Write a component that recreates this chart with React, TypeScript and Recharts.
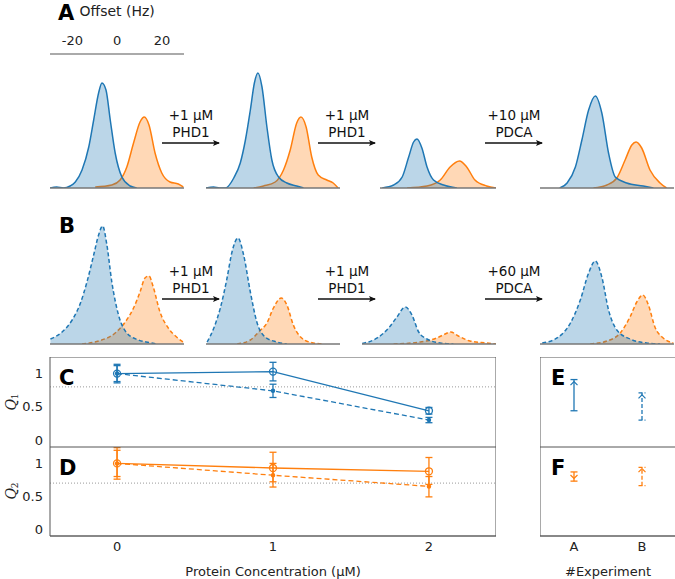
import React from "react";
import {
  ComposedChart,
  Area,
  Line,
  Scatter,
  XAxis,
  YAxis,
  ErrorBar,
  ReferenceLine,
} from "recharts";

const BLUE = "#1f77b4";
const ORANGE = "#ff7f0e";
const FONT = "'DejaVu Sans', sans-serif";
const FRAME = "#555";
const LIGHT = "#c8c8c8";
const PX_HZ = 2.24;
const SPEC_H = 134;

type Pt = [number, number];

// ---- spectra, [offset (Hz), intensity] ----
const a1Blue: Pt[] = [[-30, 0], [-27, 1], [-24, 0], [-21, 2], [-18.7, 6], [-15.7, 18], [-12.7, 41], [-10.5, 68], [-8.3, 95], [-6.8, 105], [-5, 98], [-3.1, 68], [-0.9, 35], [2.1, 11], [5.8, 2], [8.7, 0]];
const a1Orange: Pt[] = [[-9.8, 1], [-2.4, 3], [1.3, 8], [4.3, 21], [7.3, 45], [10.2, 66], [12.1, 71], [14.2, 63], [16.9, 35], [19.9, 15], [23.6, 6], [27.3, 4], [29.5, 1]];
const a2Blue: Pt[] = [[-30, 0], [-26.6, 1], [-24, 0], [-21.3, 0], [-17.6, 10], [-14.7, 25], [-12.4, 48], [-10.2, 78], [-8.4, 105], [-6.8, 115], [-5, 101], [-2.8, 61], [-0.6, 28], [2.4, 11], [6.1, 5], [10.5, 2], [13.5, 0]];
const a2Orange: Pt[] = [[-8.7, 0], [-4.3, 2], [0.9, 6], [4.6, 18], [7.6, 38], [10.5, 65], [12.4, 71], [14.7, 61], [17.2, 31], [20.1, 13], [23.9, 8], [26.8, 5], [29, 0]];
const a3Blue: Pt[] = [[-21, 0], [-15.9, 3], [-12.1, 11], [-9.2, 31], [-7, 46], [-5.5, 49], [-3.3, 40], [-1, 21], [1.9, 8], [6.4, 3], [12.3, 0]];
const a3Orange: Pt[] = [[-9.9, 0], [-1, 2], [4.9, 8], [9.3, 21], [13.5, 27], [16.7, 21], [20.4, 8], [25.6, 2], [29.8, 0]];
const a4Blue: Pt[] = [[-21.2, 0], [-17.9, 5], [-14.2, 21], [-11.3, 48], [-8.3, 78], [-5.3, 92], [-2.4, 75], [0.6, 35], [3.6, 11], [8.7, 5], [16.1, 2], [20.6, 0]];
const a4Orange: Pt[] = [[-6.1, 0], [-0.1, 3], [4.3, 10], [8, 28], [11, 43], [12.9, 46], [15.4, 40], [19.1, 18], [23.6, 5], [26.5, 0]];

const b1Blue: Pt[] = [[-29.8, 5], [-24.6, 12], [-20.1, 24], [-16.4, 41], [-13.5, 62], [-10.5, 89], [-8.3, 109], [-6.5, 118], [-4.6, 99], [-2.4, 62], [0.6, 29], [4.3, 11], [9.5, 4], [15.4, 1], [17.6, 0]];
const b1Orange: Pt[] = [[-15.7, 0], [-8.3, 3], [-0.9, 11], [3.6, 22], [7.3, 36], [10.2, 52], [12.4, 66], [14.2, 68], [16.1, 57], [19.1, 32], [22.8, 16], [26.5, 7], [29.5, 2]];
const b2Blue: Pt[] = [[-29.5, 2], [-26.5, 16], [-23.6, 36], [-20.6, 66], [-18.4, 92], [-15.7, 106], [-13.2, 89], [-10.2, 52], [-7.3, 22], [-3.6, 7], [1.6, 2], [6.1, 0]];
const b2Orange: Pt[] = [[-16.1, 0], [-10.2, 4], [-6.1, 13], [-2.8, 21], [0.1, 36], [3.6, 46], [6.1, 39], [9, 19], [12.7, 6], [17.9, 1], [22.4, 0]];
const b3Blue: Pt[] = [[-29.9, 0.5], [-23.2, 6], [-18.1, 16], [-14.4, 27], [-10.7, 37], [-7.7, 29], [-4.7, 12], [-1, 5], [4.9, 1], [10.8, 0]];
const b3Orange: Pt[] = [[-15.9, 0], [-4, 2], [3.4, 6], [7.1, 10], [9.6, 12], [13, 8], [18.2, 3], [25.6, 1], [29.8, 0]];
const b4Blue: Pt[] = [[-29, 1], [-22.4, 6], [-16.4, 21], [-12, 44], [-8.3, 71], [-5.3, 83], [-2.4, 67], [0.6, 34], [4.3, 14], [10.2, 5], [17.6, 1], [23.6, 0]];
const b4Orange: Pt[] = [[-7.6, 0], [-0.1, 3], [5.8, 11], [10.2, 27], [13.2, 42], [15.9, 49], [18.4, 39], [21.3, 17], [25, 6], [29.5, 1]];

const offsetTicks = [-20, 0, 20];

// ---- Q panels ----
const conc = [0, 1, 2];
const q1Solid = [1.0, 1.03, 0.44];
const q1SolidLo = [0.86, 0.89, 0.39];
const q1SolidHi = [1.14, 1.17, 0.49];
const q1Dashed = [1.0, 0.74, 0.3];
const q1DashedLo = [0.88, 0.64, 0.26];
const q1DashedHi = [1.12, 0.84, 0.34];
const q2Solid = [1.0, 0.93, 0.88];
const q2SolidLo = [0.76, 0.72, 0.68];
const q2SolidHi = [1.24, 1.17, 1.09];
const q2Dashed = [1.0, 0.82, 0.65];
const q2DashedLo = [0.8, 0.64, 0.49];
const q2DashedHi = [1.2, 1.0, 0.8];
const q1Threshold = 0.8;
const q2Threshold = 0.7;
const qTicks = [0, 0.5, 1];

// ---- experiment panels ----
const expNames = ["A", "B"];
const eLo = [0.44, 0.3];
const eHi = [0.91, 0.71];
const eArrow = [0.88, 0.68];
const eArrowDir = ["up", "up"];
const fLo = [0.73, 0.66];
const fHi = [0.87, 0.94];
const fArrow = [0.77, 0.92];
const fArrowDir = ["down", "up"];

const Y_DOMAIN: [number, number] = [-0.106, 1.25];
const X_DOMAIN: [number, number] = [-0.43, 2.43];
const E_DOMAIN: [number, number] = [-0.5, 1.5];

const tickStyle = { fontSize: 13, fill: "#222", fontFamily: FONT };

function merge(blue: Pt[], orange: Pt[]) {
  const hz = Array.from(new Set([...blue.map((p) => p[0]), ...orange.map((p) => p[0])])).sort((a, b) => a - b);
  const bm = new Map(blue);
  const om = new Map(orange);
  return hz.map((h) => ({ hz: h, blue: bm.has(h) ? bm.get(h) : null, orange: om.has(h) ? om.get(h) : null }));
}

function Spectrum({ blue, orange, center, domain, plotTop, dashed, topAxis }: any) {
  const data = merge(blue, orange);
  const width = (domain[1] - domain[0]) * PX_HZ;
  const left = center + domain[0] * PX_HZ;
  const topH = topAxis ? 54 : 0;
  const dash = dashed ? "4 2.5" : undefined;
  return (
    <div style={{ position: "absolute", left, top: plotTop - topH }}>
      <ComposedChart width={width} height={topH + SPEC_H + 8} data={data} margin={{ top: 0, right: 0, bottom: 0, left: 0 }}>
        <XAxis xAxisId="b" dataKey="hz" type="number" domain={domain} ticks={[0]} interval={0} height={8} tickSize={4}
          axisLine={{ stroke: "#777", strokeWidth: 1.5 }} tickLine={{ stroke: "#999" }} tick={false} allowDataOverflow />
        {topAxis && (
          <XAxis xAxisId="t" dataKey="hz" orientation="top" type="number" domain={domain} ticks={offsetTicks} interval={0} height={topH}
            tickSize={0} tickMargin={9} tickLine={false} axisLine={{ stroke: "#555" }} tick={tickStyle} allowDataOverflow
            label={{ value: "Offset (Hz)", position: "insideTop", offset: 6, fontSize: 14, fill: "#222", fontFamily: FONT }} />
        )}
        {topAxis && (
          <XAxis xAxisId="tm" dataKey="hz" orientation="top" mirror type="number" domain={domain} ticks={offsetTicks} interval={0} height={10}
            tickSize={4} axisLine={false} tickLine={{ stroke: "#777" }} tick={false} allowDataOverflow />
        )}
        <YAxis type="number" domain={[0, SPEC_H]} hide allowDataOverflow />
        <Area xAxisId="b" type="monotone" dataKey="orange" stroke={ORANGE} strokeWidth={1.5} strokeDasharray={dash}
          fill={ORANGE} fillOpacity={0.3} connectNulls isAnimationActive={false} />
        <Area xAxisId="b" type="monotone" dataKey="blue" stroke={BLUE} strokeWidth={1.5} strokeDasharray={dash}
          fill={BLUE} fillOpacity={0.3} connectNulls isAnimationActive={false} />
      </ComposedChart>
    </div>
  );
}

function QPanel({ top, plotH, color, solid, solidLo, solidHi, dashed, dashedLo, dashedHi, threshold, showX }: any) {
  const data = conc.map((x, i) => ({
    x,
    s: solid[i],
    sErr: [solid[i] - solidLo[i], solidHi[i] - solid[i]],
    d: dashed[i],
    dErr: [dashed[i] - dashedLo[i], dashedHi[i] - dashed[i]],
  }));
  const axisH = showX ? 43 : 0;
  return (
    <div style={{ position: "absolute", left: 0, top }}>
      <ComposedChart width={496} height={plotH + axisH} data={data} margin={{ top: 0, right: 0, bottom: 0, left: 0 }}>
        {showX ? (
          <XAxis xAxisId="b" type="number" dataKey="x" domain={X_DOMAIN} ticks={[...conc]} interval={0} height={axisH} tickSize={0}
            tickMargin={6} tickLine={false} axisLine={{ stroke: "#888", strokeWidth: 2 }} tick={tickStyle} allowDataOverflow
            label={{ value: "Protein Concentration (μM)", position: "insideBottom", offset: 3, fontSize: 13, fill: "#222", fontFamily: FONT }} />
        ) : (
          <XAxis xAxisId="b" type="number" dataKey="x" domain={X_DOMAIN} ticks={[...conc]} interval={0} height={10} mirror tickSize={4}
            axisLine={{ stroke: FRAME }} tickLine={{ stroke: LIGHT }} tick={false} allowDataOverflow />
        )}
        {showX && (
          <XAxis xAxisId="bm" dataKey="x" type="number" domain={X_DOMAIN} ticks={[...conc]} interval={0} height={10} mirror tickSize={4}
            axisLine={false} tickLine={{ stroke: LIGHT }} tick={false} allowDataOverflow />
        )}
        <XAxis xAxisId="t" dataKey="x" orientation="top" type="number" domain={X_DOMAIN} ticks={[...conc]} interval={0} height={10} mirror tickSize={4}
          axisLine={{ stroke: FRAME }} tickLine={{ stroke: LIGHT }} tick={false} allowDataOverflow />
        <YAxis yAxisId="l" type="number" width={50} domain={Y_DOMAIN} ticks={[...qTicks]} interval={0} tickSize={0} tickMargin={7}
          tickLine={false} axisLine={{ stroke: FRAME }} tick={tickStyle} allowDataOverflow />
        <YAxis yAxisId="lm" dataKey="s" type="number" width={10} mirror domain={Y_DOMAIN} ticks={[...qTicks]} interval={0} tickSize={4}
          axisLine={false} tickLine={{ stroke: LIGHT }} tick={false} allowDataOverflow />
        <YAxis yAxisId="r" dataKey="s" orientation="right" type="number" width={10} mirror domain={Y_DOMAIN} ticks={[...qTicks]} interval={0} tickSize={4}
          axisLine={{ stroke: FRAME }} tickLine={{ stroke: LIGHT }} tick={false} allowDataOverflow />
        <ReferenceLine xAxisId="b" yAxisId="l" y={threshold} stroke="#999" strokeDasharray="1 2" />
        <Line xAxisId="b" yAxisId="l" type="linear" dataKey="d" stroke={color} strokeWidth={1.3} strokeDasharray="5 3"
          dot={{ r: 1.6, fill: color, stroke: color, strokeDasharray: "" }} isAnimationActive={false}>
          <ErrorBar dataKey="dErr" direction="y" width={3.5} stroke={color} strokeWidth={1.3} />
        </Line>
        <Line xAxisId="b" yAxisId="l" type="linear" dataKey="s" stroke={color} strokeWidth={1.3}
          dot={{ r: 3.5, fill: "none", stroke: color, strokeWidth: 1.3 }} isAnimationActive={false}>
          <ErrorBar dataKey="sErr" direction="y" width={3.5} stroke={color} strokeWidth={1.3} />
        </Line>
      </ComposedChart>
    </div>
  );
}

const chevron = (props: any) => {
  const { cx, cy, payload } = props;
  const s = payload.dir === "up" ? 1 : -1;
  return <path d={`M${cx - 3.5},${cy + 3.5 * s} L${cx},${cy} L${cx + 3.5},${cy + 3.5 * s}`} fill="none" stroke={payload.color} strokeWidth={1.2} />;
};

function RangePanel({ top, plotH, color, lo, hi, arrow, arrowDir, showX }: any) {
  const axisH = showX ? 43 : 0;
  const idx = expNames.map((_, i) => i);
  // experiment A drawn solid, B dashed
  const rows = idx.map((i) => ({
    x: i,
    mid: (lo[i] + hi[i]) / 2,
    errSolid: i === 0 ? (hi[i] - lo[i]) / 2 : null,
    errDashed: i === 1 ? (hi[i] - lo[i]) / 2 : null,
    y: arrow[i],
    dir: arrowDir[i],
    color,
  }));
  return (
    <div style={{ position: "absolute", left: 540, top }}>
      <ComposedChart width={136} height={plotH + axisH} data={rows} margin={{ top: 0, right: 0, bottom: 0, left: 0 }}>
        {showX ? (
          <XAxis xAxisId="b" type="number" dataKey="x" domain={E_DOMAIN} ticks={[...idx]} interval={0} height={axisH} tickSize={0}
            tickMargin={6} tickLine={false} axisLine={{ stroke: "#888", strokeWidth: 2 }} tick={tickStyle}
            tickFormatter={(v: number) => expNames[v]} allowDataOverflow
            label={{ value: "#Experiment", position: "insideBottom", offset: 3, fontSize: 13, fill: "#222", fontFamily: FONT }} />
        ) : (
          <XAxis xAxisId="b" type="number" dataKey="x" domain={E_DOMAIN} ticks={[...idx]} interval={0} height={10} mirror tickSize={4}
            axisLine={{ stroke: FRAME }} tickLine={{ stroke: LIGHT }} tick={false} allowDataOverflow />
        )}
        {showX && (
          <XAxis xAxisId="bm" dataKey="x" type="number" domain={E_DOMAIN} ticks={[...idx]} interval={0} height={10} mirror tickSize={4}
            axisLine={false} tickLine={{ stroke: LIGHT }} tick={false} allowDataOverflow />
        )}
        <XAxis xAxisId="t" dataKey="x" orientation="top" type="number" domain={E_DOMAIN} ticks={[...idx]} interval={0} height={10} mirror tickSize={4}
          axisLine={{ stroke: FRAME }} tickLine={{ stroke: LIGHT }} tick={false} allowDataOverflow />
        <YAxis yAxisId="l" dataKey="mid" type="number" width={10} mirror domain={Y_DOMAIN} ticks={[...qTicks]} interval={0} tickSize={4}
          axisLine={{ stroke: FRAME }} tickLine={{ stroke: LIGHT }} tick={false} allowDataOverflow />
        <YAxis yAxisId="a" dataKey="y" type="number" hide domain={Y_DOMAIN} allowDataOverflow />
        <YAxis yAxisId="r" dataKey="mid" orientation="right" type="number" width={10} mirror domain={Y_DOMAIN} ticks={[...qTicks]} interval={0} tickSize={4}
          axisLine={{ stroke: FRAME }} tickLine={{ stroke: LIGHT }} tick={false} allowDataOverflow />
        <Scatter xAxisId="b" yAxisId="l" dataKey="mid" shape={() => <g />} isAnimationActive={false}>
          <ErrorBar dataKey="errSolid" direction="y" width={3.5} stroke={color} strokeWidth={1.3} />
        </Scatter>
        <Scatter xAxisId="b" yAxisId="l" dataKey="mid" shape={() => <g />} isAnimationActive={false}>
          <ErrorBar dataKey="errDashed" direction="y" width={3.5} stroke={color} strokeWidth={1.3} strokeDasharray="4 2" />
        </Scatter>
        <Scatter xAxisId="b" yAxisId="a" dataKey="y" shape={chevron} isAnimationActive={false} />
      </ComposedChart>
    </div>
  );
}

const specA = [
  { blue: a1Blue, orange: a1Orange, center: 117, domain: [-30, 30], topAxis: true },
  { blue: a2Blue, orange: a2Orange, center: 273, domain: [-30, 30] },
  { blue: a3Blue, orange: a3Orange, center: 429, domain: [-22, 30] },
  { blue: a4Blue, orange: a4Orange, center: 607, domain: [-30, 30] },
];
const specB = [
  { blue: b1Blue, orange: b1Orange, center: 117, domain: [-30, 30] },
  { blue: b2Blue, orange: b2Orange, center: 273, domain: [-30, 30] },
  { blue: b3Blue, orange: b3Orange, center: 429, domain: [-30, 30] },
  { blue: b4Blue, orange: b4Orange, center: 607, domain: [-30, 30] },
];

const arrowsX = [[162, 220], [318, 376], [485, 543]];
const stepsA = [["+1 μM", "PHD1"], ["+1 μM", "PHD1"], ["+10 μM", "PDCA"]];
const stepsB = [["+1 μM", "PHD1"], ["+1 μM", "PHD1"], ["+60 μM", "PDCA"]];

function StepArrows({ y, steps }: any) {
  return (
    <>
      {arrowsX.map(([x1, x2], i) => (
        <g key={i}>
          <text x={(x1 + x2) / 2} y={y - 28} textAnchor="middle" dominantBaseline="central" fontSize={13.5} fill="#111">{steps[i][0]}</text>
          <text x={(x1 + x2) / 2} y={y - 11} textAnchor="middle" dominantBaseline="central" fontSize={13.5} fill="#111">{steps[i][1]}</text>
          <line x1={x1} y1={y} x2={x2 - 1} y2={y} stroke="#111" strokeWidth={1.6} markerEnd="url(#ah)" />
        </g>
      ))}
    </>
  );
}

function QTitle({ x, y, n }: any) {
  return (
    <text x={x} y={y} transform={`rotate(-90 ${x} ${y})`} textAnchor="middle" dominantBaseline="central"
      fontFamily="'DejaVu Serif', serif" fontSize={14} fill="#222">
      <tspan fontStyle="italic">Q</tspan>
      <tspan fontSize={9} dy={4}>{n}</tspan>
    </text>
  );
}

export default function App() {
  const letters = [
    { t: "A", x: 58, y: 20 },
    { t: "B", x: 59, y: 233 },
    { t: "C", x: 59, y: 385 },
    { t: "D", x: 59, y: 475 },
    { t: "E", x: 551, y: 385 },
    { t: "F", x: 551, y: 475 },
  ];
  return (
    <div style={{ position: "absolute", left: 0, top: 0, width: 675, height: 579, fontFamily: FONT, background: "#fff", overflow: "hidden" }}>
      {specA.map((s, i) => (
        <Spectrum key={"a" + i} {...s} plotTop={54} />
      ))}
      {specB.map((s, i) => (
        <Spectrum key={"b" + i} {...s} plotTop={210} dashed />
      ))}
      <QPanel top={357} plotH={90} color={BLUE} solid={q1Solid} solidLo={q1SolidLo} solidHi={q1SolidHi}
        dashed={q1Dashed} dashedLo={q1DashedLo} dashedHi={q1DashedHi} threshold={q1Threshold} />
      <QPanel top={447} plotH={89} color={ORANGE} solid={q2Solid} solidLo={q2SolidLo} solidHi={q2SolidHi}
        dashed={q2Dashed} dashedLo={q2DashedLo} dashedHi={q2DashedHi} threshold={q2Threshold} showX />
      <RangePanel top={357} plotH={90} color={BLUE} lo={eLo} hi={eHi} arrow={eArrow} arrowDir={eArrowDir} />
      <RangePanel top={447} plotH={89} color={ORANGE} lo={fLo} hi={fHi} arrow={fArrow} arrowDir={fArrowDir} showX />
      <svg width={675} height={579} style={{ position: "absolute", left: 0, top: 0, pointerEvents: "none" }} fontFamily={FONT}>
        <defs>
          <marker id="ah" markerWidth="7" markerHeight="6" refX="6" refY="3" orient="auto" markerUnits="userSpaceOnUse">
            <path d="M0,0 L7,3 L0,6 L1.5,3 z" fill="#111" />
          </marker>
        </defs>
        <StepArrows y={143} steps={stepsA} />
        <StepArrows y={299} steps={stepsB} />
        <QTitle x={11} y={402} n="1" />
        <QTitle x={11} y={491} n="2" />
        {letters.map((l) => (
          <text key={l.t} x={l.x} y={l.y} fontSize={21} fontWeight="bold" fill="#000">{l.t}</text>
        ))}
      </svg>
    </div>
  );
}
